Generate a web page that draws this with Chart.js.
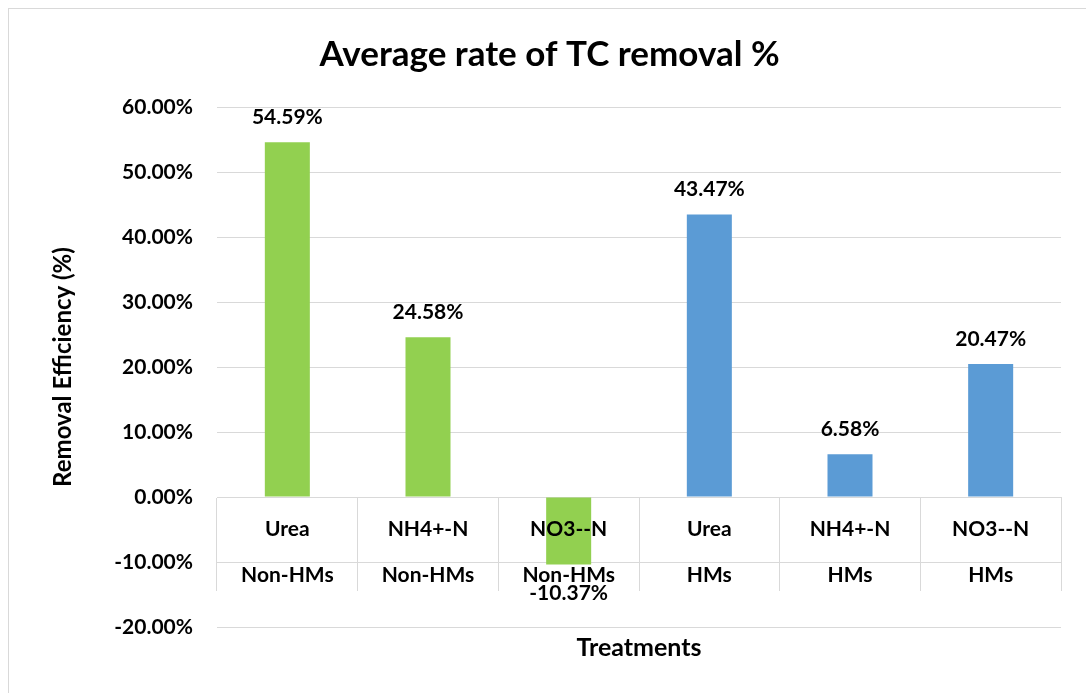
<!DOCTYPE html>
<html>
<head>
<meta charset="utf-8">
<script src="https://cdn.jsdelivr.net/npm/chart.js@4"></script>
<style>
  html, body { margin: 0; padding: 0; background: #fff; overflow: hidden; }
  #frame { position: absolute; left: 8px; top: 8px; width: 2000px; height: 2000px; border: 1px solid #d9d9d9; }
  #wrap { position: absolute; left: 0; top: 0; width: 1086px; height: 693px; }
</style>
</head>
<body>
<div id="frame"></div>
<div id="wrap"><canvas id="chart"></canvas></div>
<script>
// chart data
const categories = ['Urea', 'NH4+-N', 'NO3--N', 'Urea', 'NH4+-N', 'NO3--N'];
const groups = ['Non-HMs', 'Non-HMs', 'Non-HMs', 'HMs', 'HMs', 'HMs'];
const removal = [54.59, 24.58, -10.37, 43.47, 6.58, 20.47];
const barColors = ['#92d050', '#92d050', '#92d050', '#5b9bd5', '#5b9bd5', '#5b9bd5'];
const yMin = -20, yMax = 60, yStep = 10;

const fmt = v => v.toFixed(2) + '%';

Chart.defaults.font.family = 'Lato';
Chart.defaults.font.weight = 'bold';
Chart.defaults.color = '#000';

// value labels above / below the bars
const barLabels = {
    id: 'barLabels',
    afterDatasetsDraw(chart) {
        const ctx = chart.ctx;
        const meta = chart.getDatasetMeta(0);
        ctx.save();
        ctx.font = 'bold 21px Lato';
        ctx.fillStyle = '#000';
        ctx.textAlign = 'center';
        ctx.textBaseline = 'middle';
        meta.data.forEach((bar, i) => {
            const v = removal[i];
            const y = v >= 0 ? bar.y - 25 : bar.y + 29;
            ctx.fillText(fmt(v), bar.x, y);
        });
        ctx.restore();
    }
};

new Chart(document.getElementById('chart'), {
    type: 'bar',
    data: {
        labels: categories.map((c, i) => [c, groups[i]]),
        datasets: [{
            data: removal,
            backgroundColor: barColors,
            categoryPercentage: 1,
            barPercentage: 0.32
        }]
    },
    options: {
        responsive: true,
        maintainAspectRatio: false,
        animation: false,
        layout: { padding: { left: 38, right: 25, top: 0, bottom: 0 } },
        plugins: {
            legend: { display: false },
            tooltip: { enabled: false },
            title: {
                display: true,
                text: 'Average rate of TC removal %',
                font: { size: 35, weight: 'bold' },
                padding: { top: 34, bottom: 31 }
            },
            subtitle: {
                display: true,
                position: 'bottom',
                fullSize: false,
                text: 'Treatments',
                font: { size: 25, weight: 'bold' },
                padding: { top: 6, bottom: 30 }
            }
        },
        scales: {
            x: {
                position: { y: 0 },
                grid: {
                    offset: true,
                    drawOnChartArea: false,
                    drawTicks: true,
                    tickLength: 93,
                    color: '#d9d9d9'
                },
                border: { display: true, color: '#d9d9d9' },
                ticks: {
                    z: 1,
                    padding: -84,
                    maxRotation: 0,
                    font: { size: 21, weight: 'bold', lineHeight: 2.19 }
                }
            },
            y: {
                min: yMin,
                max: yMax,
                afterFit(scale) { scale.width = 179; },
                grid: { color: '#d9d9d9', drawTicks: false },
                border: { display: false },
                ticks: {
                    stepSize: yStep,
                    padding: 24,
                    font: { size: 21, weight: 'bold' },
                    callback: v => fmt(v)
                },
                title: {
                    display: true,
                    text: 'Removal Efficiency (%)',
                    font: { size: 24, weight: 'bold' },
                    padding: { top: 11, bottom: 0 }
                }
            }
        }
    },
    plugins: [barLabels]
});
</script>
</body>
</html>
